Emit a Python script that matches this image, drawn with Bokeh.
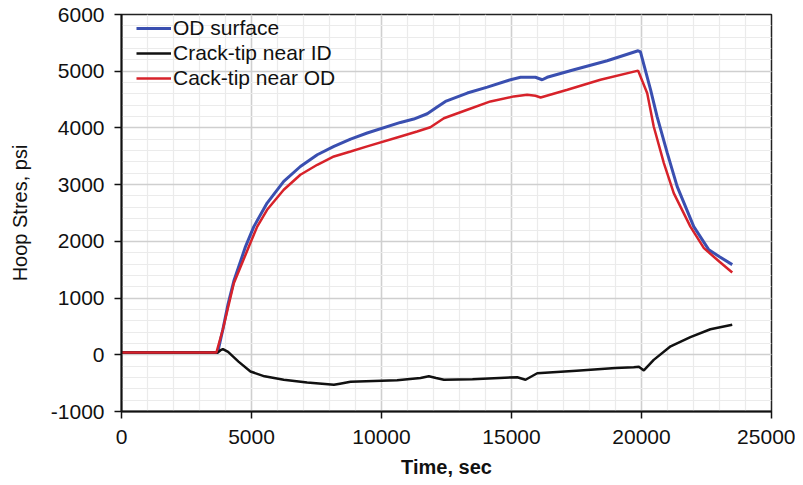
from bokeh.plotting import figure
from bokeh.models import SingleIntervalTicker, Range1d, Legend, LegendItem, NumeralTickFormatter
from bokeh.embed import file_html
from bokeh.resources import INLINE

# ---- data ----
od_t = [0, 3700, 3900, 4100, 4320, 4770, 5090, 5600, 6240, 6880, 7530, 8170, 8810, 9450,
        10730, 11240, 11760, 12140, 12460, 13300, 14070, 14960, 15350, 15920, 16180, 16370,
        17400, 18680, 19870, 19960, 20350, 20600, 20990, 21370, 22010, 22590, 23000, 23490]
od_v = [40, 40, 450, 900, 1300, 1908, 2260, 2675, 3057, 3320, 3527, 3674, 3804, 3910,
        4097, 4157, 4250, 4368, 4467, 4615, 4720, 4850, 4893, 4893, 4850, 4893,
        5026, 5185, 5360, 5340, 4670, 4200, 3560, 2970, 2260, 1850, 1730, 1590]

id_t = [0, 3700, 3810, 3900, 4100, 4500, 4960, 5500, 6240, 7140, 8170, 8400, 8810, 10600,
        11500, 11820, 12100, 12400, 13500, 15220, 15540, 15990, 17500, 19000, 19700, 19900,
        20090, 20470, 21120, 21880, 22650, 23490]
id_v = [40, 40, 80, 100, 50, -120, -295, -380, -440, -490, -530, -510, -475, -450,
        -410, -380, -410, -440, -430, -395, -440, -325, -280, -235, -218, -210,
        -275, -90, 150, 310, 450, 530]

cod_t = [0, 3650, 3900, 4320, 4900, 5220, 5600, 6240, 6880, 7530, 8170, 8810, 9450,
         10730, 11370, 11880, 12400, 13300, 14190, 15090, 15600, 15920, 16120, 17150,
         18420, 19870, 20220, 20470, 20860, 21240, 21880, 22400, 23000, 23490]
cod_v = [40, 40, 450, 1260, 1908, 2260, 2557, 2910, 3175, 3350, 3497, 3585, 3674,
         3850, 3938, 4011, 4170, 4321, 4467, 4556, 4585, 4567, 4537, 4674,
         4850, 5010, 4610, 4025, 3380, 2850, 2260, 1880, 1640, 1450]

series_names = ["OD surface", "Crack-tip near ID", "Cack-tip near OD"]
series_colors = ["#3a4fb0", "#111111", "#d7222a"]

FONT = "Liberation Sans"

p = figure(frame_width=650, frame_height=397, min_border_left=121, min_border_right=24,
           min_border_top=14, min_border_bottom=60,
           output_backend="svg", toolbar_location=None,
           x_range=Range1d(0, 25000), y_range=Range1d(-1000, 6000))

p.background_fill_color = "white"
p.outline_line_color = "#222222"
p.outline_line_width = 1.5

xt = SingleIntervalTicker(interval=5000, num_minor_ticks=5)
yt = SingleIntervalTicker(interval=1000, num_minor_ticks=5)
p.xaxis.ticker = xt
p.yaxis.ticker = yt
p.xgrid.ticker = xt
p.ygrid.ticker = yt
p.xaxis.formatter = NumeralTickFormatter(format="0")
p.yaxis.formatter = NumeralTickFormatter(format="0")
p.xgrid.grid_line_color = "#cfcfcf"
p.ygrid.grid_line_color = "#cfcfcf"
p.xgrid.grid_line_width = 1.5
p.ygrid.grid_line_width = 1.5
p.xgrid.minor_grid_line_color = "#ebebeb"
p.ygrid.minor_grid_line_color = "#ebebeb"
p.xgrid.minor_grid_line_width = 1.2
p.ygrid.minor_grid_line_width = 1.2

for ax in (p.xaxis[0], p.yaxis[0]):
    ax.axis_line_color = "#111111"
    ax.axis_line_width = 2
    ax.major_tick_line_color = "#111111"
    ax.major_tick_line_width = 1.5
    ax.major_tick_out = 7
    ax.major_tick_in = 0
    ax.minor_tick_line_color = None
    ax.major_label_text_font = FONT
    ax.major_label_text_font_size = "21px"
    ax.major_label_text_color = "#111111"
    ax.axis_label_text_font = FONT
    ax.axis_label_text_font_size = "20px"
    ax.axis_label_text_color = "#111111"

p.xaxis.axis_label = "Time, sec"
p.xaxis.axis_label_text_font_style = "bold"
p.xaxis.major_label_standoff = 11
p.xaxis.axis_label_standoff = 9
p.yaxis.axis_label = "Hoop Stres, psi"
p.yaxis.axis_label_text_font_style = "normal"
p.yaxis.major_label_standoff = 10
p.yaxis.axis_label_standoff = 17

r1 = p.line(od_t, od_v, line_color=series_colors[0], line_width=3)
r2 = p.line(id_t, id_v, line_color=series_colors[1], line_width=2.5)
r3 = p.line(cod_t, cod_v, line_color=series_colors[2], line_width=2.5)

legend = Legend(items=[LegendItem(label=series_names[0], renderers=[r1]),
                       LegendItem(label=series_names[1], renderers=[r2]),
                       LegendItem(label=series_names[2], renderers=[r3])],
                location=(15, 321), orientation="vertical")
legend.background_fill_alpha = 0
legend.border_line_color = None
legend.padding = 2
legend.margin = 0
legend.spacing = 1
legend.glyph_width = 35
legend.glyph_height = 22
legend.label_height = 22
legend.label_standoff = 2
legend.label_text_font = FONT
legend.label_text_font_size = "21px"
legend.label_text_color = "#111111"
p.add_layout(legend)

open("out.html", "w").write(file_html(p, INLINE))
